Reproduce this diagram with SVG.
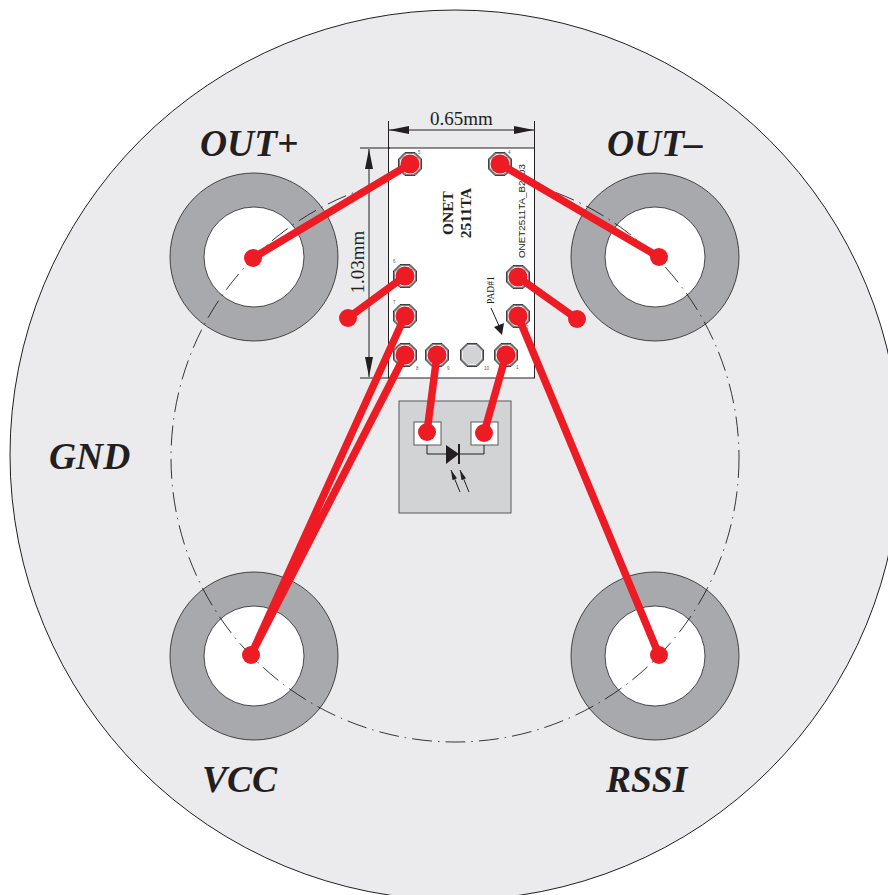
<svg xmlns="http://www.w3.org/2000/svg" width="888" height="895" viewBox="0 0 888 895">
<style>
.ring{fill:#a7a9ac;stroke:#231f20;stroke-width:.8}
.hole{fill:#fff;stroke:#231f20;stroke-width:.8}
.pado{fill:#808285;stroke:#231f20;stroke-width:.8}
.r{stroke:#ed1c24;stroke-width:7.5;stroke-linecap:round;fill:none}
.d{fill:#ed1c24}
.lab{font-family:"Liberation Serif",serif;font-weight:bold;font-style:italic;font-size:37.500px;fill:#231f20}
.dim{font-family:"Liberation Serif",serif;font-size:19px;fill:#231f20}
.thin{stroke:#231f20;stroke-width:1;fill:none}
.num{font-family:"Liberation Sans",sans-serif;font-size:4.5px;fill:#58595b}
</style>
<defs>
<g id="p"><polygon class="pado" points="-5,-11.5 5,-11.5 11.5,-5 11.5,5 5,11.5 -5,11.5 -11.5,5 -11.5,-5"/><polygon fill="#d1d3d4" stroke="#fff" stroke-width=".8" points="-4,-9.5 4,-9.5 9.500,-4 9.500,4 4,9.500 -4,9.500 -9.500,4 -9.500,-4"/></g>
<marker id="a" viewBox="0 0 20 8" refX="20" refY="4" markerWidth="20" markerHeight="8" markerUnits="userSpaceOnUse" orient="auto-start-reverse"><path d="M0 0L20 4L0 8z" fill="#231f20"/></marker>
<marker id="b" viewBox="0 0 10 5" refX="10" refY="2.5" markerWidth="10" markerHeight="5" markerUnits="userSpaceOnUse" orient="auto"><path d="M0 0L10 2.5L0 5z" fill="#231f20"/></marker>
</defs>
<rect width="888" height="895" fill="#fff"/>
<g id="board"><circle cx="455" cy="455" r="445" fill="#ebebed" stroke="#231f20" stroke-width="1"/></g>
<g id="pin-out-plus"><circle class="ring" cx="254" cy="257" r="84"/><circle class="hole" cx="254" cy="257" r="50"/><text class="lab" x="200" y="156">OUT+</text></g>
<g id="pin-out-minus"><circle class="ring" cx="655" cy="257" r="84"/><circle class="hole" cx="655" cy="257" r="50"/><text class="lab" x="607" y="156">OUT–</text></g>
<g id="pin-vcc"><circle class="ring" cx="254" cy="656" r="84"/><circle class="hole" cx="254" cy="656" r="50"/><text class="lab" x="202" y="792">VCC</text></g>
<g id="pin-rssi"><circle class="ring" cx="655" cy="656" r="84"/><circle class="hole" cx="655" cy="656" r="50"/><text class="lab" x="606" y="792">RSSI</text></g>
<text id="gnd" class="lab" x="49" y="469">GND</text>
<circle id="bolt-circle" cx="455" cy="458" r="284" fill="none" stroke="#231f20" stroke-width=".9" stroke-dasharray="20 6 1.500 6"/>
<g id="chip"><rect x="388.500" y="148" width="146" height="230" fill="#fff" stroke="#231f20" stroke-width="1"/>
<use href="#p" x="410" y="164"/><use href="#p" x="500" y="164"/><use href="#p" x="405" y="276"/><use href="#p" x="405" y="316"/><use href="#p" x="405" y="355"/><use href="#p" x="437" y="355"/><use href="#p" x="472" y="355"/><use href="#p" x="506" y="355"/><use href="#p" x="518" y="277"/><use href="#p" x="518" y="316"/>
<g font-family="Liberation Serif,serif" font-weight="bold" font-size="15.500" fill="#231f20" text-anchor="middle"><text transform="translate(452.500 213) rotate(-90)">ONET</text><text transform="translate(471 213) rotate(-90)">2511TA</text></g>
<text transform="translate(525 258) rotate(-90)" font-family="Liberation Sans,sans-serif" font-size="9.800" fill="#231f20">ONET2511TA_B2003</text>
<text transform="translate(494 304) rotate(-90)" font-family="Liberation Serif,serif" font-size="9.500" fill="#231f20">PAD#1</text>
<line class="thin" x1="491" y1="308" x2="500" y2="328"/><path d="M494 327L502 335L504 323z" fill="#231f20"/>
<g class="num"><text x="418" y="154">5</text><text x="508" y="154">4</text><text x="393" y="263">6</text><text x="393" y="304">7</text><text x="416" y="370">8</text><text x="447" y="370">9</text><text x="484" y="370">10</text><text x="516" y="369">1</text><text x="526" y="329">2</text></g></g>
<g id="dimensions">
<line class="thin" x1="388.500" y1="121" x2="388.500" y2="148"/><line class="thin" x1="534.500" y1="121" x2="534.500" y2="148"/>
<line class="thin" x1="389" y1="130" x2="534" y2="130" marker-start="url(#a)" marker-end="url(#a)" stroke-width="1.200"/>
<text class="dim" x="461.500" y="125" text-anchor="middle">0.65mm</text>
<line class="thin" x1="360" y1="148" x2="390" y2="148"/><line class="thin" x1="360" y1="378" x2="390" y2="378"/>
<line class="thin" x1="369" y1="149" x2="369" y2="377" marker-start="url(#a)" marker-end="url(#a)"/>
<text class="dim" transform="translate(364 262) rotate(-90)" text-anchor="middle">1.03mm</text></g>
<g id="photodiode"><rect x="399" y="401" width="112" height="112" fill="#d1d3d4" stroke="#58595b" stroke-width="1"/>
<rect x="414" y="422" width="27" height="23" fill="#fff" stroke="#58595b"/><rect x="471" y="422" width="27" height="23" fill="#fff" stroke="#58595b"/>
<path class="thin" d="M427 445V454H446M459 454H484V445"/><path d="M446 445L459 454L446 464z" fill="#231f20"/><line x1="459" y1="444" x2="459" y2="464" stroke="#231f20" stroke-width="2"/>
<line class="thin" x1="460" y1="492" x2="451" y2="470" marker-end="url(#b)"/><line class="thin" x1="469" y1="492" x2="460" y2="470" marker-end="url(#b)"/></g>
<g id="connectors">
<path class="r" d="M410 164L253 258M500 164L659 257M405 276L348 318M518 277L577 319M405 316L251 655M405 355L251 655M518 316L659 655M437 355L427 432M506 355L484 433"/>
<g class="d"><circle cx="410" cy="164" r="9.500"/><circle cx="500" cy="164" r="9.500"/><circle cx="405" cy="276" r="9.500"/><circle cx="405" cy="316" r="9.500"/><circle cx="405" cy="355" r="9.500"/><circle cx="437" cy="355" r="9.500"/><circle cx="506" cy="355" r="9.500"/><circle cx="518" cy="277" r="9.500"/><circle cx="518" cy="316" r="9.500"/>
<circle cx="253" cy="258" r="9"/><circle cx="659" cy="257" r="9"/><circle cx="348" cy="318" r="9"/><circle cx="577" cy="319" r="9"/><circle cx="251" cy="655" r="9"/><circle cx="659" cy="655" r="9"/><circle cx="427" cy="432" r="9"/><circle cx="484" cy="433" r="9"/></g></g>
</svg>
